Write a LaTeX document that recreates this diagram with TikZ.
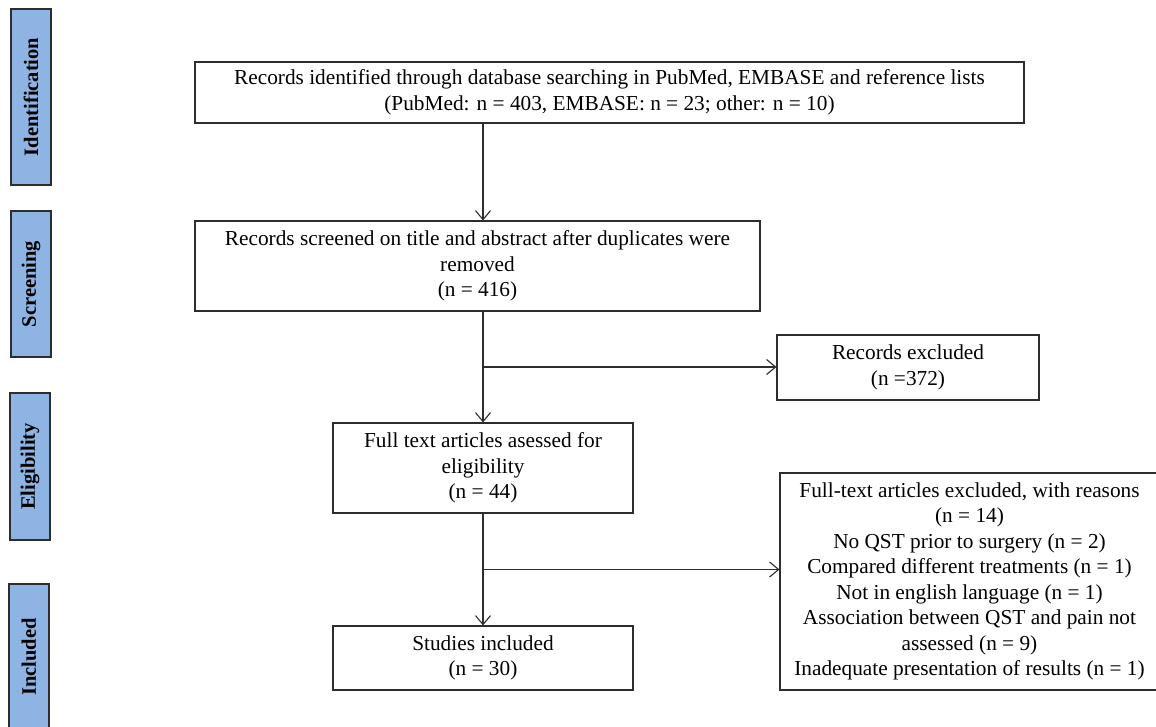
\documentclass[tikz,border=0pt]{standalone}
\usepackage{fontspec}
\setmainfont{Liberation Serif}
\usetikzlibrary{arrows.meta,positioning,calc}
\definecolor{phaseblue}{RGB}{141,180,226}
\definecolor{linegray}{RGB}{45,45,45}

\begin{document}
\begin{tikzpicture}[x=1pt,y=-1pt,->,>={Straight Barb[length=9pt,width=15pt]},
line width=1.1pt,draw=linegray,
main box/.style={rectangle,draw=linegray,line width=1.1pt,align=center,inner sep=0pt,
  font=\fontsize{21.3}{25.5}\selectfont},
phase box/.style={rectangle,draw=linegray,fill=phaseblue,line width=1.2pt,rotate=90,
  inner sep=0pt,minimum height=40pt,font=\fontsize{20.5}{22}\selectfont\bfseries}]

\useasboundingbox (0,0) rectangle (1156,727);

% phases
\node[phase box,minimum width=176pt] (p1) at (31,97) {Identification};
\node[phase box,minimum width=146pt] (p2) at (31,284) {Screening};
\node[phase box,minimum width=147pt] (p3) at (30,466.5) {Eligibility};
\node[phase box,minimum width=146pt] (p4) at (29,657) {Included};

% flow boxes
\node[main box,minimum width=829pt,minimum height=61pt] (1) at (609.5,92.5)
  {Records identified through database searching in PubMed, EMBASE and reference lists\\
   (PubMed: n = 403, EMBASE: n = 23; other: n = 10)};
\node[main box,minimum width=565pt,minimum height=90pt] (2) at (477.5,266)
  {Records screened on title and abstract after duplicates were\\ removed\\ (n = 416)};
\node[main box,minimum width=262pt,minimum height=65pt] (3) at (908,367.5)
  {Records excluded\\ (n =372)};
\node[main box,minimum width=300pt,minimum height=90pt] (4) at (483,468)
  {Full text articles asessed for\\ eligibility\\ (n = 44)};
\node[main box,minimum width=379pt,minimum height=217pt] (5) at (969.5,581.5)
  {Full-text articles excluded, with reasons\\ (n = 14)\\
   No QST prior to surgery (n = 2)\\ Compared different treatments (n = 1)\\
   Not in english language (n = 1)\\ Association between QST and pain not\\
   assessed (n = 9)\\ Inadequate presentation of results (n = 1)};
\node[main box,minimum width=300pt,minimum height=64pt] (6) at (483,658)
  {Studies included\\ (n = 30)};

% connectors
\coordinate (b1) at ($(2.south -| 4.north)!0.5!(4.north)$);
\coordinate (b2) at ($(4.south)!0.5!(6.north)$);
\draw (1.south -| 4.north) -- (2.north -| 4.north);
\draw (2.south -| 4.north) -- (4.north);
\draw (b1) -- (b1 -| 3.west);
\draw (4.south) -- (6.north);
\draw (b2) -- (b2 -| 5.west);
\end{tikzpicture}
\end{document}
